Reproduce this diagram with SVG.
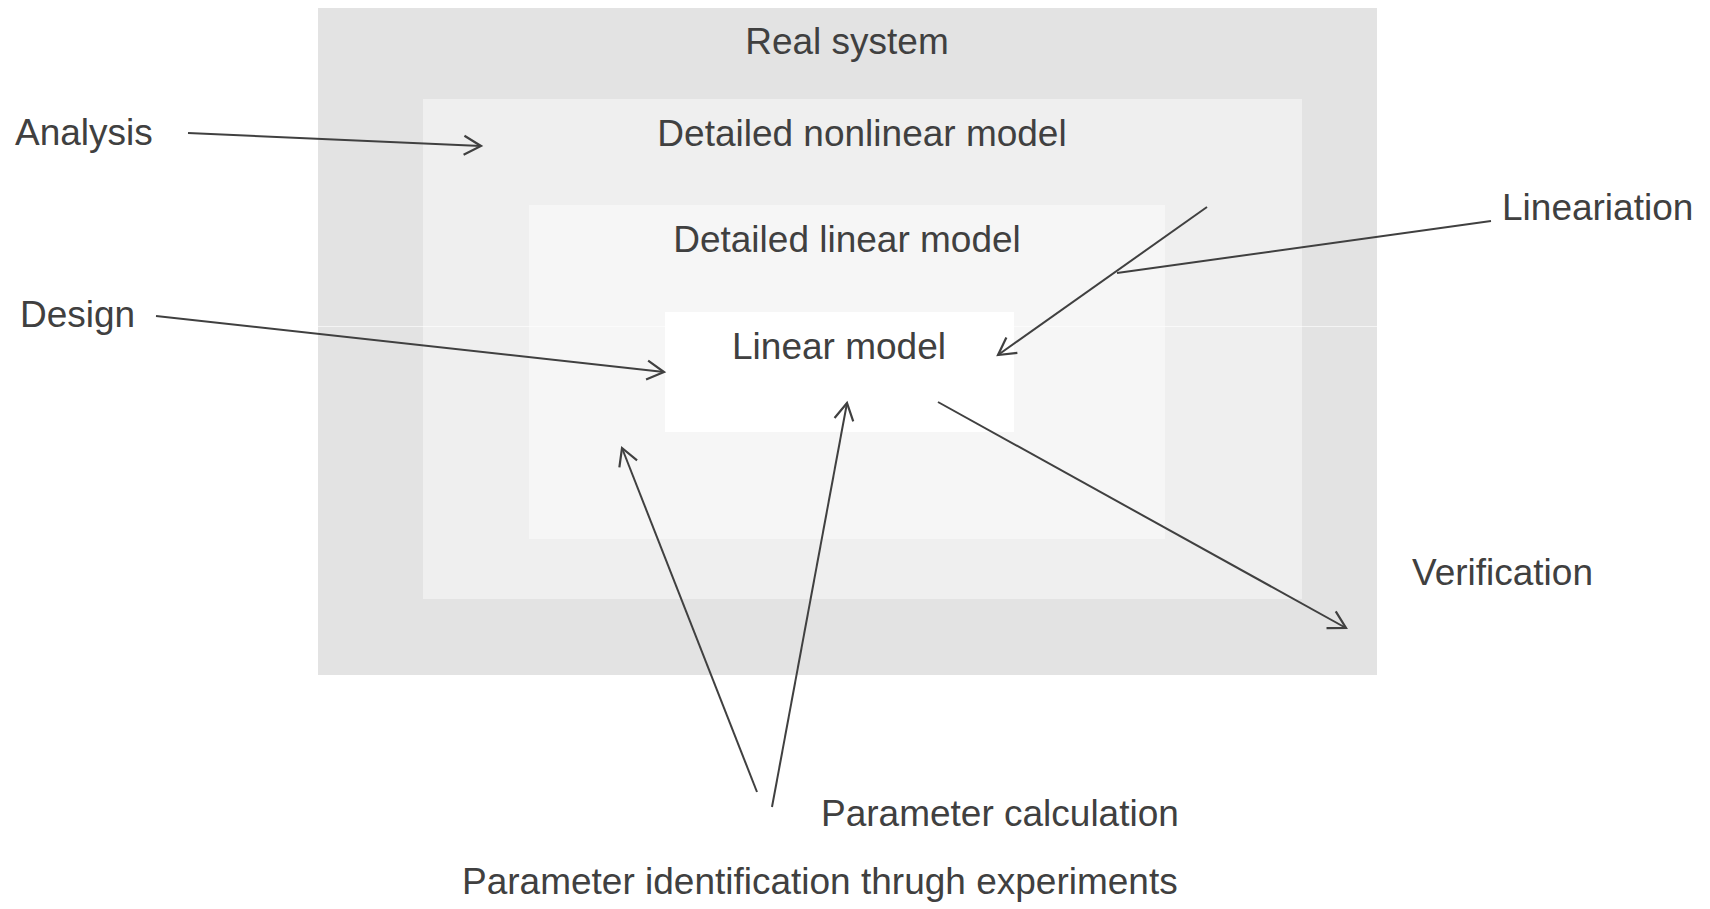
<svg xmlns="http://www.w3.org/2000/svg" width="1710" height="909" viewBox="0 0 1710 909">
  <style>
    .lbl { font-family: "Liberation Sans", Arial, sans-serif; font-size: 37px; fill: #404040; }
    .mid { text-anchor: middle; }
    .conn { stroke: #404040; stroke-width: 2; fill: none; }
  </style>
  <defs>
    <marker id="arr" markerUnits="userSpaceOnUse" markerWidth="40" markerHeight="40" viewBox="-20 -20 40 40" refX="0" refY="0" orient="auto">
      <path d="M -17 -9.5 L 0 0 L -17 9.5" fill="none" stroke="#404040" stroke-width="2.2" stroke-linejoin="miter"/>
    </marker>
  </defs>
  <rect x="0" y="0" width="1710" height="909" fill="#ffffff"/>
  <g id="real-system">
    <rect x="318" y="8" width="1059" height="667" fill="#e3e3e3"/>
    <text class="lbl mid" x="847" y="54">Real system</text>
  </g>
  <g id="nonlinear-model">
    <rect x="423" y="99" width="879" height="500" fill="#efefef"/>
    <text class="lbl mid" x="862" y="146">Detailed nonlinear model</text>
  </g>
  <g id="detailed-linear-model">
    <rect x="529" y="205" width="636" height="334" fill="#f6f6f6"/>
    <text class="lbl mid" x="847" y="252">Detailed linear model</text>
  </g>
  <line x1="318" y1="326.5" x2="1377" y2="326.5" stroke="#ffffff" stroke-opacity="0.6" stroke-width="1"/>
  <g id="linear-model">
    <rect x="665" y="312" width="349" height="120" fill="#ffffff"/>
    <text class="lbl mid" x="839" y="359">Linear model</text>
  </g>
  <g id="analysis"><text class="lbl" x="15" y="145">Analysis</text></g>
  <g id="design"><text class="lbl" x="20" y="327">Design</text></g>
  <g id="lineariation"><text class="lbl" x="1502" y="220">Lineariation</text></g>
  <g id="verification"><text class="lbl" x="1412" y="585">Verification</text></g>
  <g id="parameter-calculation"><text class="lbl" x="821" y="826">Parameter calculation</text></g>
  <g id="parameter-identification"><text class="lbl" x="462" y="894">Parameter identification thrugh experiments</text></g>
  <g id="connectors">
    <line class="conn" x1="188" y1="133" x2="481" y2="146" marker-end="url(#arr)"/>
    <line class="conn" x1="156" y1="316" x2="664" y2="372" marker-end="url(#arr)"/>
    <line class="conn" x1="1207" y1="207" x2="998" y2="355" marker-end="url(#arr)"/>
    <line class="conn" x1="1491" y1="221" x2="1117" y2="273"/>
    <line class="conn" x1="938" y1="402" x2="1346" y2="628" marker-end="url(#arr)"/>
    <line class="conn" x1="757" y1="792" x2="622" y2="448" marker-end="url(#arr)"/>
    <line class="conn" x1="772" y1="807" x2="847" y2="403" marker-end="url(#arr)"/>
  </g>
</svg>
